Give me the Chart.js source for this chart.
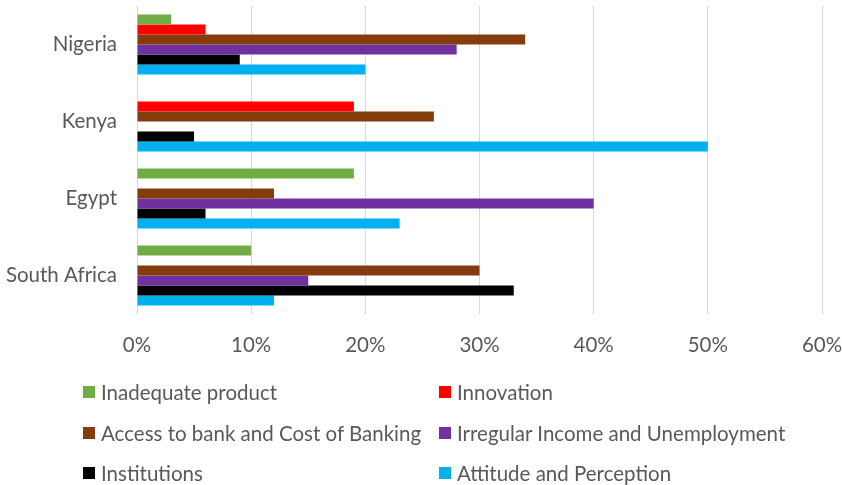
<!DOCTYPE html>
<html>
<head>
<meta charset="utf-8">
<script src="https://cdn.jsdelivr.net/npm/chart.js@4"></script>
<style>
  html, body { margin: 0; padding: 0; background: #ffffff; }
  #wrap { position: relative; width: 842px; height: 485px; overflow: hidden; }
  #c { position: absolute; left: 0; top: 0; }
  .lg { position: absolute; font-family: Lato, "Liberation Sans", sans-serif; font-size: 20.5px; color: #595959; white-space: nowrap; line-height: 24px; height: 24px; }
  .lg span.box { position: absolute; left: 0; top: 6px; width: 12px; height: 12px; }
  .lg span.txt { position: absolute; left: 18px; top: 0; }
</style>
</head>
<body>
<div id="wrap">
  <canvas id="c" width="842" height="485"></canvas>
  <div id="legend"></div>
</div>
<script>
// ---- data ----
const categories = ["Nigeria", "Kenya", "Egypt", "South Africa"];
const seriesNames = [
  "Inadequate product",
  "Innovation",
  "Access to bank and Cost of Banking",
  "Irregular Income and Unemployment",
  "Institutions",
  "Attitude and Perception"
];
const inadequateProduct   = [3, 0, 19, 10];
const innovation          = [6, 19, 0, 0];
const accessCostBanking   = [34, 26, 12, 30];
const irregularIncome     = [28, 0, 40, 15];
const institutions        = [9, 5, 6, 33];
const attitudePerception  = [20, 50, 23, 12];
const xTickValues = [0, 10, 20, 30, 40, 50, 60];

const seriesValues = [inadequateProduct, innovation, accessCostBanking, irregularIncome, institutions, attitudePerception];
const seriesColors = ["#70AD47", "#FF0000", "#843C0C", "#7030A0", "#000000", "#00B0F0"];

const textColor = "#595959";
const fontFamily = "Lato, 'Liberation Sans', sans-serif";

const chart = new Chart(document.getElementById("c"), {
  type: "bar",
  data: {
    labels: categories,
    datasets: seriesNames.map((name, i) => ({
      label: name,
      data: seriesValues[i],
      backgroundColor: seriesColors[i],
      borderWidth: 0,
      categoryPercentage: 0.78,
      barPercentage: 1.0
    }))
  },
  options: {
    indexAxis: "y",
    responsive: false,
    animation: false,
    layout: { padding: { top: 6, right: 20, bottom: 121, left: 0 } },
    plugins: {
      legend: { display: false },
      tooltip: { enabled: false }
    },
    scales: {
      x: {
        min: 0,
        max: 60,
        afterBuildTicks: (scale) => { scale.ticks = xTickValues.map(v => ({ value: v })); },
        afterFit: (scale) => {
          scale.height = 50;
          scale.paddingLeft = 0; scale.paddingRight = 0;
          scale.paddingTop = 0; scale.paddingBottom = 0;
        },
        grid: { color: "#D9D9D9", lineWidth: 1, drawTicks: false },
        border: { display: false },
        ticks: {
          padding: 19,
          color: textColor,
          font: { family: fontFamily, size: 20.5 },
          callback: (v) => v + "%",
          maxRotation: 0
        }
      },
      y: {
        afterFit: (scale) => {
          scale.width = 137;
          scale.paddingLeft = 0; scale.paddingRight = 0;
          scale.paddingTop = 0; scale.paddingBottom = 0;
        },
        grid: { display: false, drawTicks: false },
        border: { display: false },
        ticks: {
          padding: 20,
          color: textColor,
          font: { family: fontFamily, size: 20.5 }
        }
      }
    }
  }
});

// ---- HTML legend built from the chart's datasets ----
const legendEl = document.getElementById("legend");
const colX = [83, 439];
const rowY = [380, 421, 461];
chart.data.datasets.forEach((ds, i) => {
  const item = document.createElement("div");
  item.className = "lg";
  item.style.left = colX[i % 2] + "px";
  item.style.top = rowY[Math.floor(i / 2)] + "px";
  const box = document.createElement("span");
  box.className = "box";
  box.style.background = ds.backgroundColor;
  const txt = document.createElement("span");
  txt.className = "txt";
  txt.textContent = ds.label;
  item.appendChild(box);
  item.appendChild(txt);
  legendEl.appendChild(item);
});
</script>
</body>
</html>
